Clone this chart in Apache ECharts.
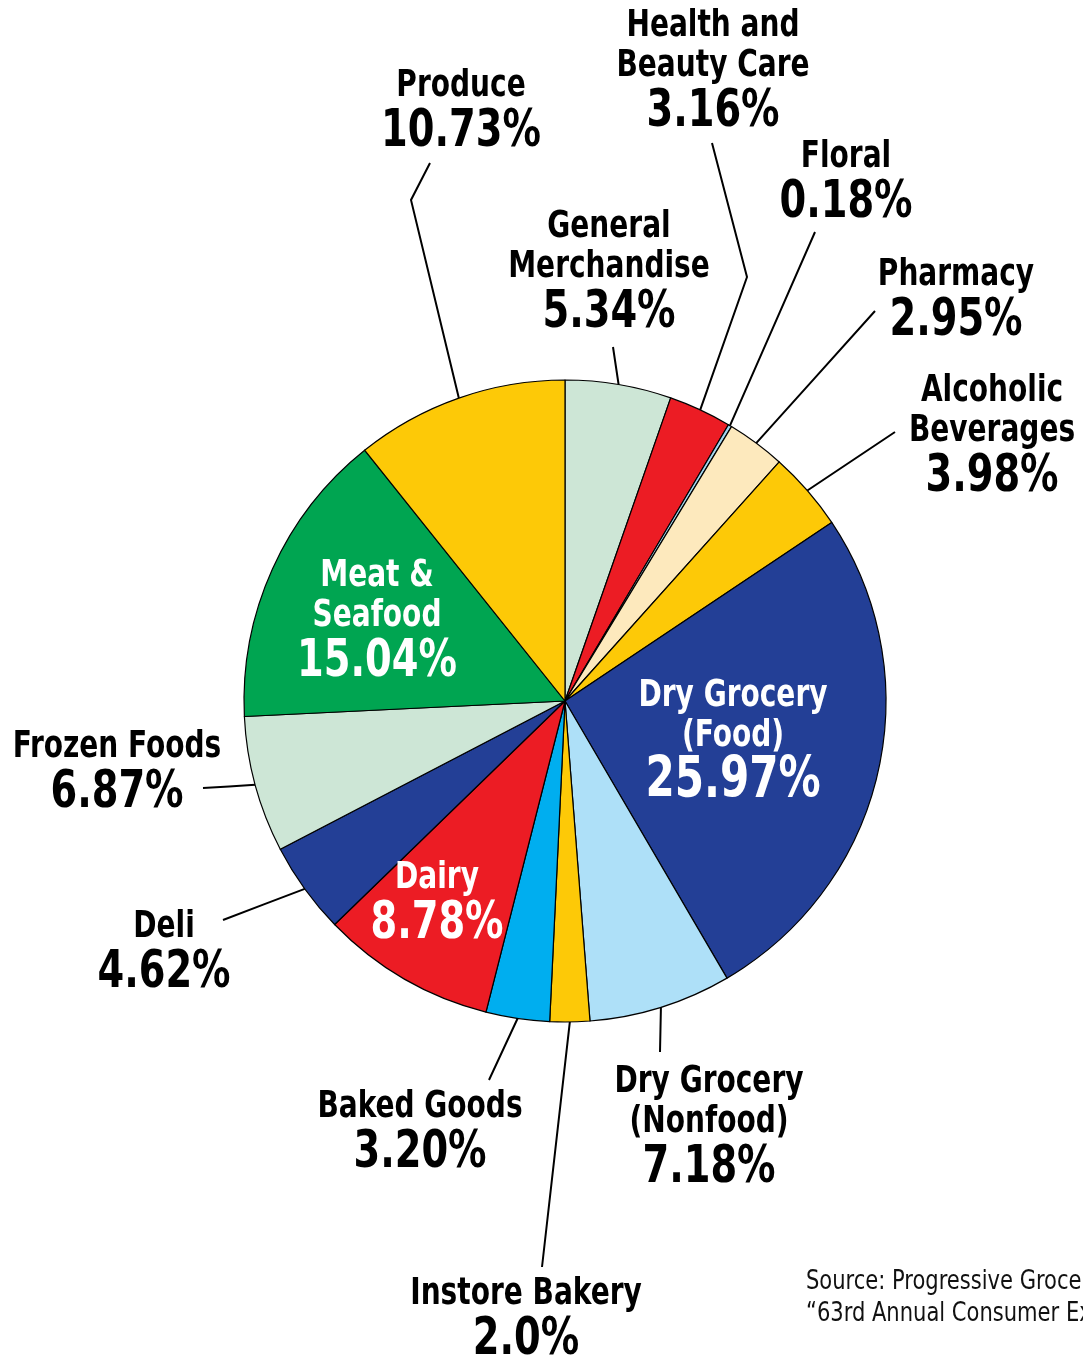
<!DOCTYPE html>
<html>
<head>
<meta charset="utf-8">
<title>Share of Supermarket Sales</title>
<script src="https://cdn.jsdelivr.net/npm/echarts@6/dist/echarts.min.js"></script>
<style>
  html, body { margin: 0; padding: 0; background: #ffffff; }
  #chart { width: 1083px; height: 1363px; }
</style>
</head>
<body>
<div id="chart"></div>
<script>
// Departments, clockwise from 12 o'clock
const categories = [
  'General Merchandise', 'Health and Beauty Care', 'Floral', 'Pharmacy',
  'Alcoholic Beverages', 'Dry Grocery (Food)', 'Dry Grocery (Nonfood)',
  'Instore Bakery', 'Baked Goods', 'Dairy', 'Deli', 'Frozen Foods',
  'Meat & Seafood', 'Produce'
];
// How each department name is broken across lines in its label
const nameLines = [
  ['General', 'Merchandise'], ['Health and', 'Beauty Care'], ['Floral'], ['Pharmacy'],
  ['Alcoholic', 'Beverages'], ['Dry Grocery', '(Food)'], ['Dry Grocery', '(Nonfood)'],
  ['Instore Bakery'], ['Baked Goods'], ['Dairy'], ['Deli'], ['Frozen Foods'],
  ['Meat &', 'Seafood'], ['Produce']
];
// Share of total sales, percent
const shares = [5.34, 3.16, 0.18, 2.95, 3.98, 25.97, 7.18, 2.0, 3.20, 8.78, 4.62, 6.87, 15.04, 10.73];
// Decimal places shown for each share
const sharePrecision = [2, 2, 2, 2, 2, 2, 2, 1, 2, 2, 2, 2, 2, 2];
const sliceColors = [
  '#cde6d6', '#ec1c24', '#a3d6f0', '#fde9bd', '#fdc907', '#233f96', '#aee0f8',
  '#fdc907', '#00aeef', '#ec1c24', '#233f96', '#cde6d6', '#00a551', '#fdc907'
];
const sourceLines = ['Source: Progressive Grocer,', '\u201C63rd Annual Consumer Expenditures Study\u201D'];

// Pie geometry
const CX = 565, CY = 701, R = 321;

// Label placement: block centre x, block top y, leader line bends/ends;
// labels marked inside sit on the slice in white, without a leader.
const placement = [
  { x: 609, top: 207, line: [[613, 347]] },
  { x: 713, top: 6,   line: [[747, 277], [712, 143]] },
  { x: 846, top: 137, line: [[815, 232]] },
  { x: 956, top: 255, line: [[875, 311]] },
  { x: 992, top: 371, line: [[895, 432]] },
  { x: 733, top: 676, inside: true, big: true },
  { x: 709, top: 1062, line: [[660, 1052]] },
  { x: 526, top: 1274, line: [[542, 1267]] },
  { x: 420, top: 1087, line: [[489, 1080]] },
  { x: 437, top: 858, inside: true },
  { x: 164, top: 907, line: [[223, 920]] },
  { x: 117, top: 727, line: [[203, 788]] },
  { x: 377, top: 556, inside: true },
  { x: 461, top: 66,  line: [[411, 200], [430, 163]] }
];

// Narrow bold face: condensed family, squeezed further horizontally
const FONT = '"Liberation Sans Narrow", "DejaVu Sans Condensed", "Arial Narrow", sans-serif';
const LABEL_SQUEEZE = 0.82;
const total = shares.reduce((a, b) => a + b, 0);

// Point on the rim at the middle angle of slice i (clockwise from top)
function rimPoint(i) {
  let before = 0;
  for (let k = 0; k < i; k++) before += shares[k];
  const frac = (before + shares[i] / 2) / total;
  const a = frac * Math.PI * 2;
  return [CX + R * Math.sin(a), CY - R * Math.cos(a)];
}

const pieData = categories.map((name, i) => {
  const item = {
    name: name,
    value: shares[i],
    itemStyle: { color: sliceColors[i] }
  };
  if (placement[i].inside) item.labelLine = { show: false };
  return item;
});

const chart = echarts.init(document.getElementById('chart'), null, { renderer: 'canvas' });

chart.setOption({
  backgroundColor: '#ffffff',
  animation: false,
  graphic: [{
    type: 'text',
    x: 806,
    y: 1266,
    scaleX: 0.9,
    silent: true,
    style: {
      text: sourceLines.join('\n'),
      font: '26px ' + FONT,
      lineHeight: 32,
      fill: '#111111'
    }
  }],
  series: [{
    type: 'pie',
    center: [CX, CY],
    radius: [0, R],
    startAngle: 90,
    clockwise: true,
    avoidLabelOverlap: false,
    silent: true,
    emphasis: { disabled: true },
    data: pieData,
    itemStyle: { borderColor: '#000000', borderWidth: 1.2 },
    label: {
      show: true,
      position: 'outside',
      fontFamily: FONT,
      formatter: function (p) {
        const i = p.dataIndex;
        const pl = placement[i];
        const ns = pl.inside ? 'nw' : 'n';
        const ps = pl.big ? 'pwb' : (pl.inside ? 'pw' : 'p');
        const pct = shares[i].toFixed(sharePrecision[i]) + '%';
        return nameLines[i].map(t => '{' + ns + '|' + t + '}').join('\n') +
          '\n{' + ps + '|' + pct + '}';
      },
      rich: {
        n:   { fontFamily: FONT, fontWeight: 'bold', fontSize: 38, lineHeight: 40, color: '#000000', align: 'center' },
        p:   { fontFamily: FONT, fontWeight: 'bold', fontSize: 52, lineHeight: 52, color: '#000000', align: 'center' },
        nw:  { fontFamily: FONT, fontWeight: 'bold', fontSize: 38, lineHeight: 40, color: '#ffffff', align: 'center' },
        pw:  { fontFamily: FONT, fontWeight: 'bold', fontSize: 52, lineHeight: 52, color: '#ffffff', align: 'center' },
        pwb: { fontFamily: FONT, fontWeight: 'bold', fontSize: 57, lineHeight: 52, color: '#ffffff', align: 'center' }
      }
    },
    labelLine: {
      show: true,
      smooth: false,
      lineStyle: { color: '#000000', width: 2 }
    },
    labelLayout: function (params) {
      const i = params.dataIndex;
      const pl = placement[i];
      const out = { x: pl.x, y: pl.top, align: 'center', verticalAlign: 'top' };
      if (pl.line) {
        out.labelLinePoints = [rimPoint(i)].concat(pl.line);
        if (out.labelLinePoints.length === 2) {
          const a = out.labelLinePoints[0], b = out.labelLinePoints[1];
          out.labelLinePoints = [a, [(a[0] + b[0]) / 2, (a[1] + b[1]) / 2], b];
        }
      }
      return out;
    }
  }]
});

// Squeeze each slice label horizontally about its own centre anchor
(function condenseLabels() {
  const data = chart.getModel().getSeriesByIndex(0).getData();
  data.each(function (idx) {
    const el = data.getItemGraphicEl(idx);
    const label = el && el.getTextContent();
    if (label) {
      label.scaleX = LABEL_SQUEEZE;
      label.markRedraw();
    }
  });
  chart.getZr().refresh();
})();
</script>
</body>
</html>
